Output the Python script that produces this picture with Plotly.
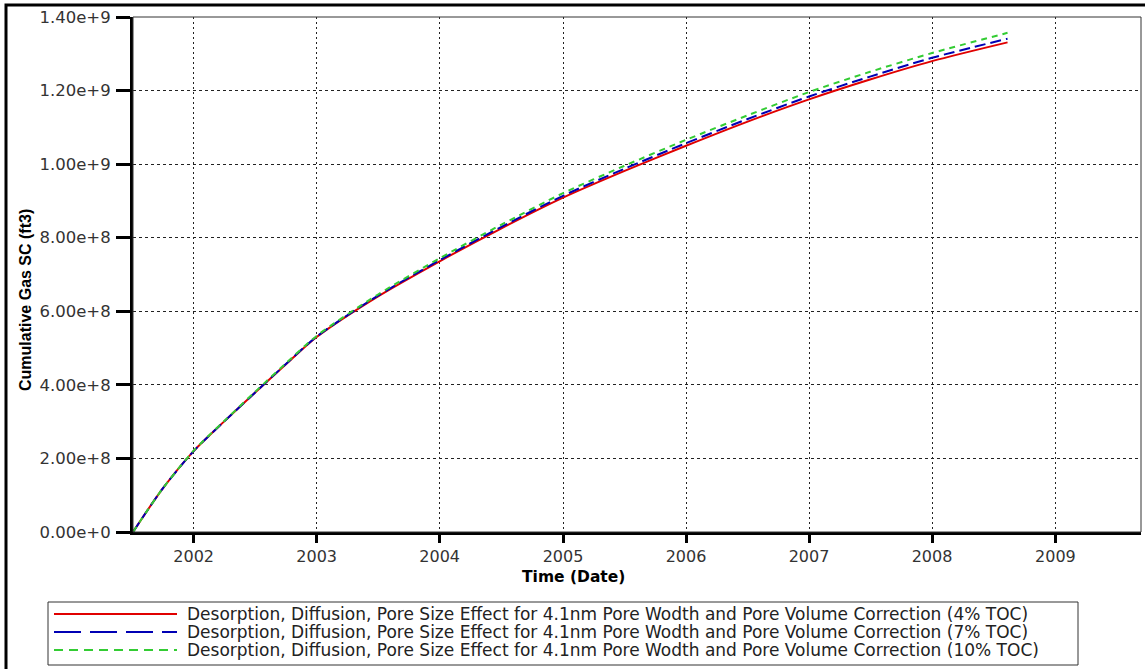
import plotly.graph_objects as go

# ---- data ----
dates = ["2001-07-05", "2001-10-01", "2002-01-01", "2002-04-01", "2002-07-01",
         "2002-10-01", "2003-01-01", "2003-07-01", "2004-01-01", "2004-07-01",
         "2005-01-01", "2005-07-01", "2006-01-01", "2006-07-01", "2007-01-01",
         "2007-07-01", "2008-01-01", "2008-08-12"]
toc4 = [0, 1.18e8, 2.20e8, 3.00e8, 3.78e8, 4.55e8, 5.30e8, 6.40e8, 7.36e8, 8.25e8,
        9.09e8, 9.81e8, 1.050e9, 1.115e9, 1.176e9, 1.230e9, 1.280e9, 1.331e9]
toc7 = [0, 1.18e8, 2.20e8, 3.00e8, 3.78e8, 4.56e8, 5.31e8, 6.42e8, 7.39e8, 8.29e8,
        9.14e8, 9.87e8, 1.057e9, 1.122e9, 1.184e9, 1.238e9, 1.289e9, 1.341e9]
toc10 = [0, 1.18e8, 2.21e8, 3.01e8, 3.80e8, 4.58e8, 5.33e8, 6.45e8, 7.44e8, 8.35e8,
         9.21e8, 9.95e8, 1.066e9, 1.132e9, 1.196e9, 1.251e9, 1.302e9, 1.357e9]

names = [
    "Desorption, Diffusion, Pore Size Effect for 4.1nm Pore Wodth and Pore Volume Correction (4% TOC)",
    "Desorption, Diffusion, Pore Size Effect for 4.1nm Pore Wodth and Pore Volume Correction (7% TOC)",
    "Desorption, Diffusion, Pore Size Effect for 4.1nm Pore Wodth and Pore Volume Correction (10% TOC)",
]
y_tickvals = [0, 2e8, 4e8, 6e8, 8e8, 1.0e9, 1.2e9, 1.4e9]
y_ticktext = ["0.00e+0", "2.00e+8", "4.00e+8", "6.00e+8", "8.00e+8", "1.00e+9", "1.20e+9", "1.40e+9"]
x_tickvals = ["2002-01-01", "2003-01-01", "2004-01-01", "2005-01-01", "2006-01-01",
              "2007-01-01", "2008-01-01", "2009-01-01"]
x_ticktext = ["2002", "2003", "2004", "2005", "2006", "2007", "2008", "2009"]
x_range = ["2001-07-05", "2009-09-12"]

# ---- geometry ----
W, H = 1145, 669
L, R, T, B = 133, 1141, 17, 532
pw, ph = R - L, B - T


def px(x):
    return (x - L) / pw


def py(y):
    return (B - y) / ph


fig = go.Figure()
colors = ["#e00000", "#0000b4", "#33cc33"]
plot_dash = ["solid", "11px,5px", "6px,5px"]
legend_dash = ["solid", "27px,9px", "9px,6px"]
for ys, nm, c, d in zip([toc4, toc7, toc10], names, colors, plot_dash):
    fig.add_trace(go.Scatter(x=dates, y=ys, mode="lines", name=nm, showlegend=False,
                             line=dict(shape="spline", smoothing=0.8, color=c, width=2, dash=d)))

xtickfont = dict(family="DejaVu Sans", size=16, color="#333333")
ytickfont = dict(family="DejaVu Sans", size=16.5, color="#333333")

shapes = [
    dict(type="rect", xref="paper", yref="paper", x0=0, x1=1, y0=0, y1=1,
         line=dict(color="#333333", width=1), layer="above"),
    dict(type="rect", xref="paper", yref="paper",
         x0=px(6), x1=px(1160), y0=py(690), y1=py(5),
         line=dict(color="black", width=3), layer="above"),
    # legend box
    dict(type="rect", xref="paper", yref="paper",
         x0=px(48), x1=px(1078), y0=py(665), y1=py(602),
         line=dict(color="#333333", width=1), fillcolor="white", layer="above"),
]
annotations = [
    dict(text="<b>Cumulative Gas SC (ft3)</b>", xref="paper", yref="paper",
         x=px(25), y=py(300), textangle=-90, showarrow=False,
         xanchor="center", yanchor="middle",
         font=dict(family="Liberation Sans", size=16, color="black")),
    dict(text="<b>Time (Date)</b>", xref="paper", yref="paper",
         x=px(573), y=py(577), showarrow=False,
         xanchor="center", yanchor="middle",
         font=dict(family="DejaVu Sans", size=15.5, color="black")),
]
rows = [614, 632, 650]
for nm, c, d, ry in zip(names, colors, legend_dash, rows):
    shapes.append(dict(type="line", xref="paper", yref="paper",
                       x0=px(54), x1=px(177), y0=py(ry), y1=py(ry),
                       line=dict(color=c, width=2, dash=d), layer="above"))
    annotations.append(dict(text=nm, xref="paper", yref="paper",
                            x=px(185), y=py(ry), showarrow=False,
                            xanchor="left", yanchor="middle",
                            font=dict(family="DejaVu Sans", size=17, color="#222222")))

fig.update_layout(
    width=W, height=H,
    margin=dict(l=L, r=W - R, t=T, b=H - B, autoexpand=False),
    paper_bgcolor="white", plot_bgcolor="white",
    showlegend=False,
    xaxis=dict(
        type="date", range=x_range, tickmode="array",
        tickvals=x_tickvals, ticktext=x_ticktext,
        showline=True, linecolor="black", linewidth=3,
        ticks="outside", ticklen=8, tickwidth=3, tickcolor="black",
        showgrid=True, gridcolor="#222222", gridwidth=1, griddash="2px,3px",
        zeroline=False, tickfont=xtickfont,
    ),
    yaxis=dict(
        range=[0, 1.4e9], tickmode="array",
        tickvals=y_tickvals, ticktext=y_ticktext,
        showline=True, linecolor="black", linewidth=3,
        ticks="outside", ticklen=14, tickwidth=3, tickcolor="black",
        showgrid=True, gridcolor="#222222", gridwidth=1, griddash="3px,3px",
        zeroline=False, tickfont=ytickfont, ticklabelstandoff=2,
    ),
    shapes=shapes,
    annotations=annotations,
)

fig.write_html("out.html", config={"displayModeBar": False},
               post_script="document.body.style.margin='0px';document.body.style.padding='0px';")
